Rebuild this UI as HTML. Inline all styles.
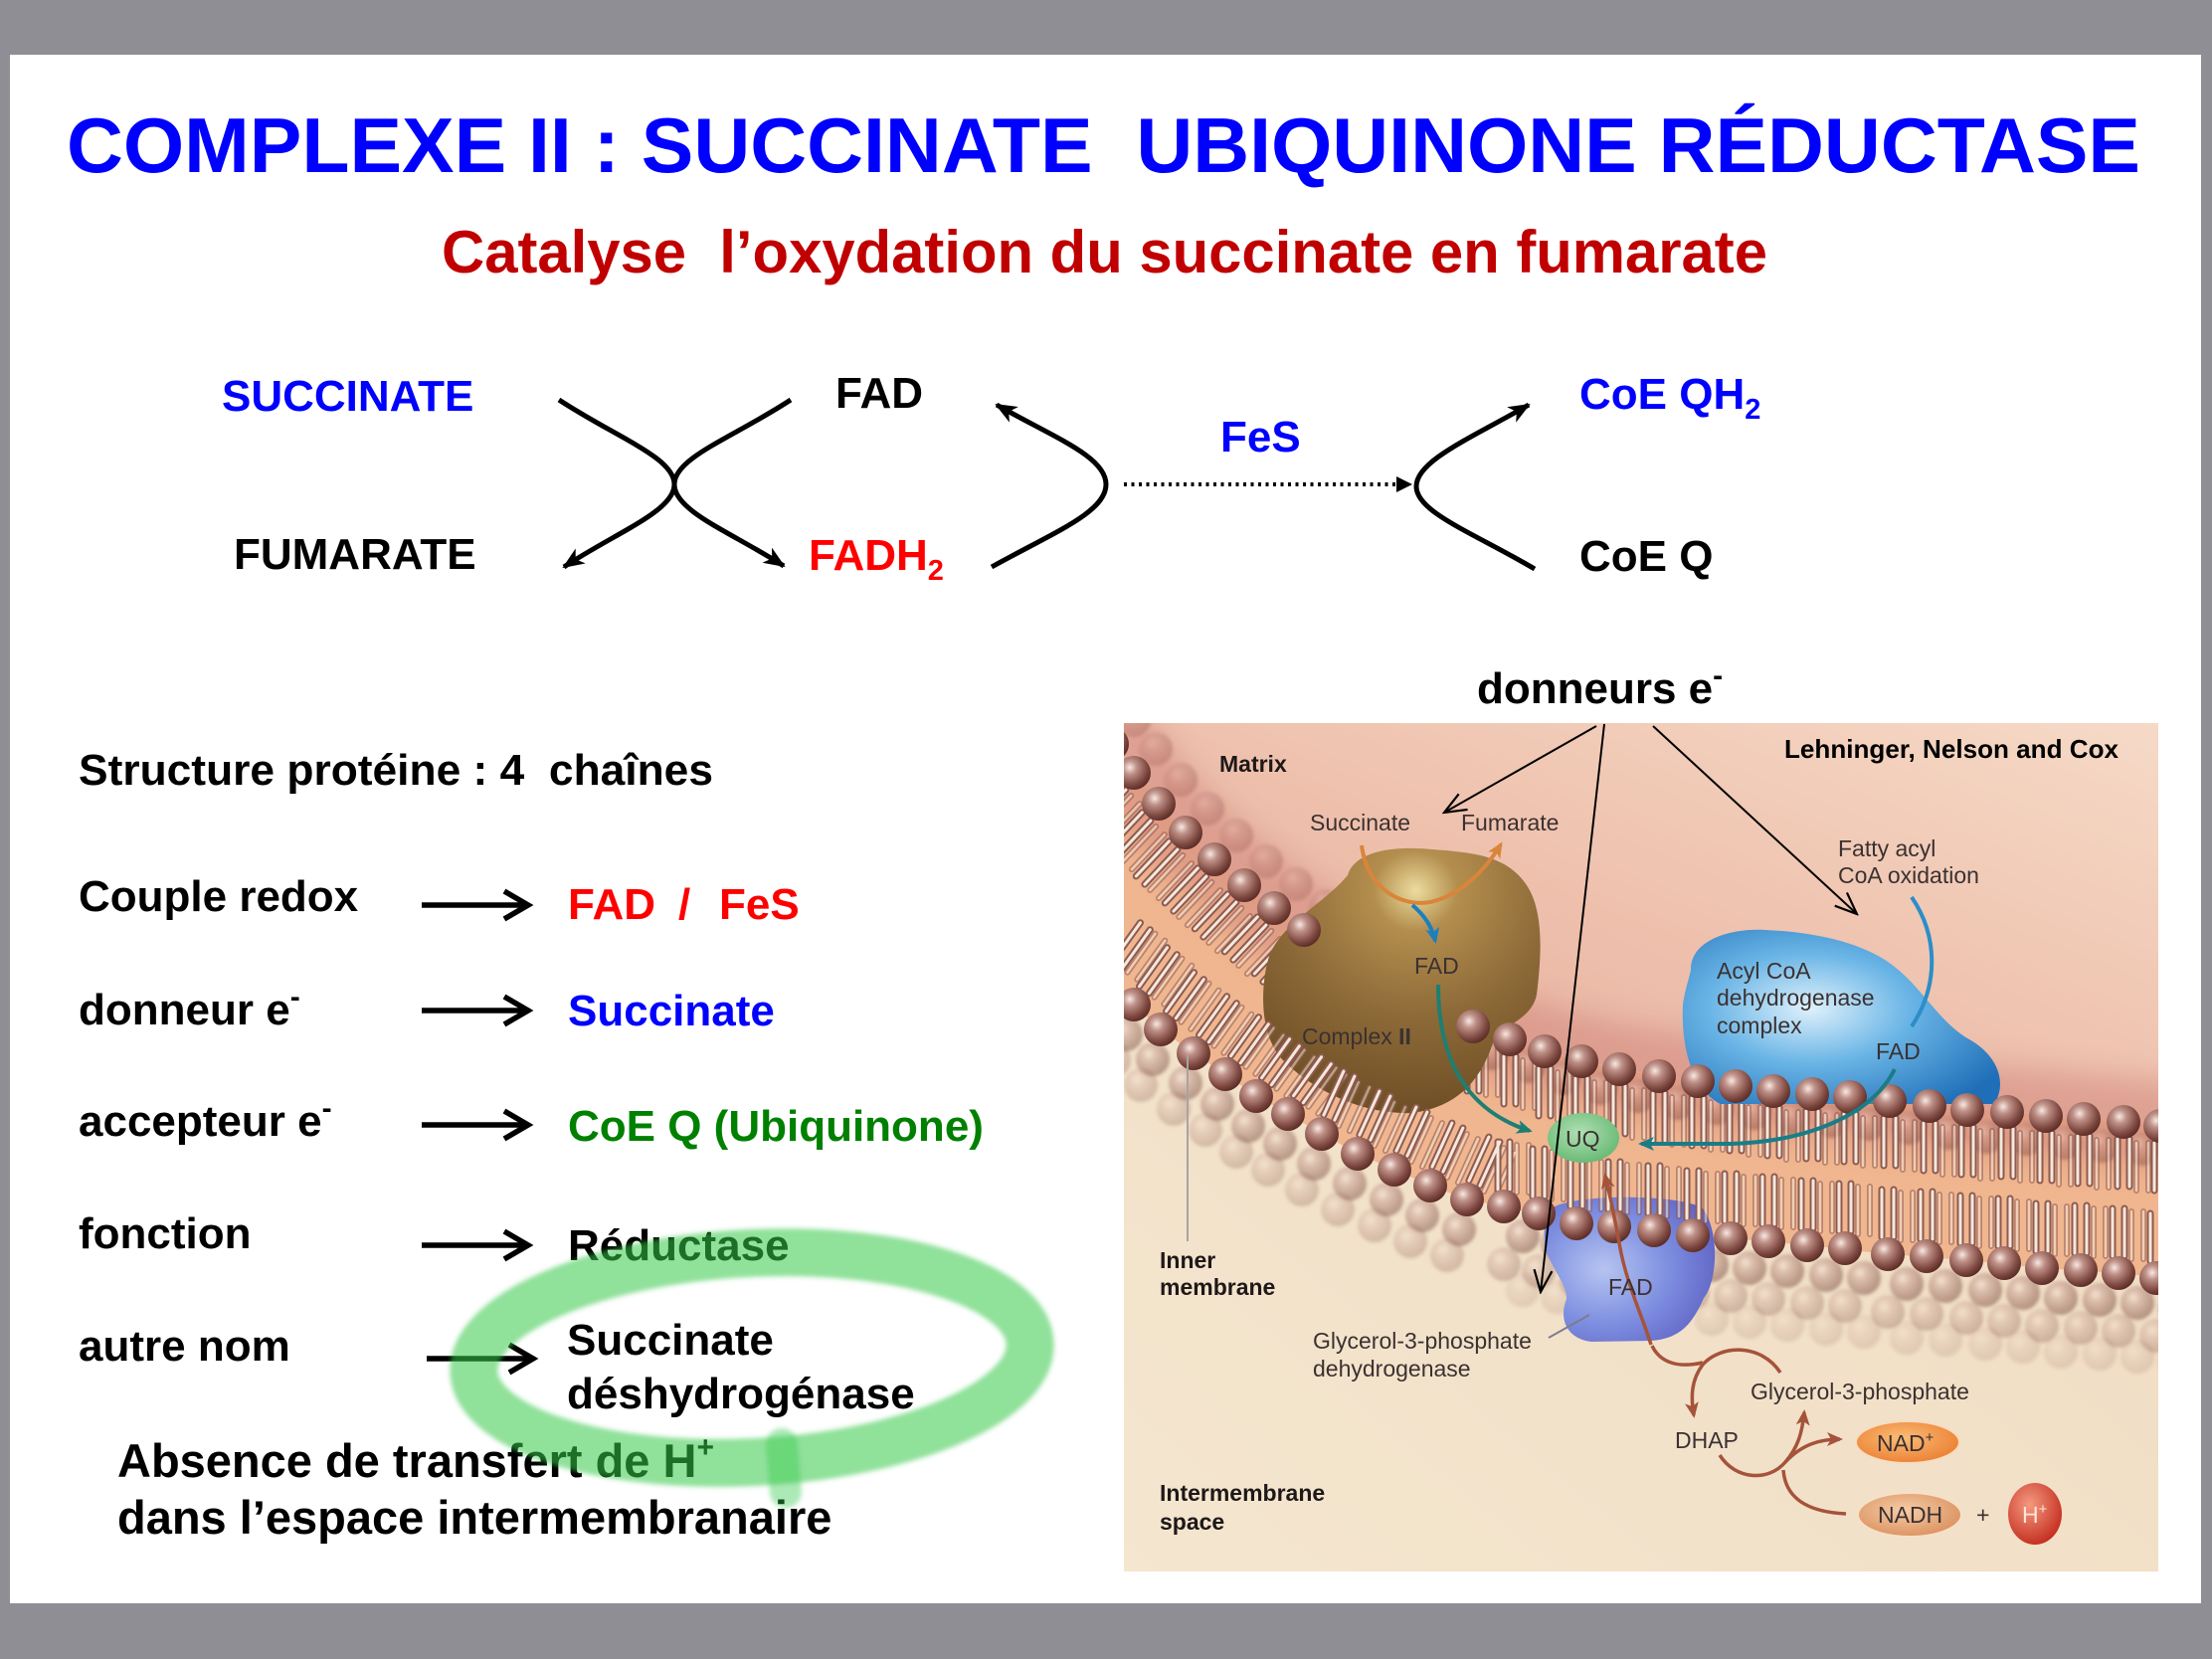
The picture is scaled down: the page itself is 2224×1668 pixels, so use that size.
<!DOCTYPE html>
<html><head><meta charset="utf-8"><style>
html,body{margin:0;padding:0;width:2224px;height:1668px;overflow:hidden;background:#8f8e94;}
svg{display:block}
text{font-family:"Liberation Sans",Arial,Helvetica,sans-serif;}
</style></head><body>
<svg width="2224" height="1668" viewBox="0 0 2224 1668" xmlns="http://www.w3.org/2000/svg">
<defs>
<radialGradient id="hg" cx="0.38" cy="0.34" r="0.68"><stop offset="0" stop-color="#f7e9e2"/><stop offset="0.3" stop-color="#bf9188"/><stop offset="0.75" stop-color="#7f4a42"/><stop offset="1" stop-color="#5c2d27"/></radialGradient>
<circle id="h" r="17" fill="url(#hg)"/>
<linearGradient id="mg" x1="1" y1="0" x2="0" y2="1"><stop offset="0" stop-color="#f6dcc9"/><stop offset="0.5" stop-color="#eec1ad"/><stop offset="1" stop-color="#e4a898"/></linearGradient>
<linearGradient id="bg2" x1="0" y1="1" x2="1" y2="0"><stop offset="0" stop-color="#f4e6cf"/><stop offset="1" stop-color="#efd9bf"/></linearGradient>
<radialGradient id="c2g" cx="0.55" cy="0.16" r="0.95"><stop offset="0" stop-color="#ecdc9e"/><stop offset="0.16" stop-color="#b38e4e"/><stop offset="0.5" stop-color="#8d6a38"/><stop offset="1" stop-color="#654620"/></radialGradient>
<radialGradient id="acg" cx="0.4" cy="0.45" r="0.7"><stop offset="0" stop-color="#dff1fb"/><stop offset="0.45" stop-color="#6ab5e6"/><stop offset="1" stop-color="#1f6fb8"/></radialGradient>
<radialGradient id="glg" cx="0.35" cy="0.5" r="0.75"><stop offset="0" stop-color="#b6c4f1"/><stop offset="0.5" stop-color="#7e8fe0"/><stop offset="1" stop-color="#5a5cc0"/></radialGradient>
<radialGradient id="uqg" cx="0.45" cy="0.4" r="0.7"><stop offset="0" stop-color="#b0e0b4"/><stop offset="1" stop-color="#5fb46c"/></radialGradient>
<radialGradient id="nadg" cx="0.45" cy="0.4" r="0.7"><stop offset="0" stop-color="#fbbd78"/><stop offset="1" stop-color="#e9782a"/></radialGradient>
<radialGradient id="nadhg" cx="0.45" cy="0.4" r="0.7"><stop offset="0" stop-color="#f5cda8"/><stop offset="1" stop-color="#d88a56"/></radialGradient>
<radialGradient id="hpg" cx="0.4" cy="0.35" r="0.7"><stop offset="0" stop-color="#f59a80"/><stop offset="1" stop-color="#c22a1c"/></radialGradient>
<filter id="b2" x="-20%" y="-20%" width="140%" height="140%"><feGaussianBlur stdDeviation="1.5"/></filter>
<filter id="b14" x="-20%" y="-20%" width="140%" height="140%"><feGaussianBlur stdDeviation="14"/></filter>
<filter id="gb" x="-10%" y="-20%" width="120%" height="140%"><feGaussianBlur stdDeviation="2.5"/></filter>
<clipPath id="ic"><rect x="1130" y="727" width="1040" height="853"/></clipPath>
<marker id="mk" markerUnits="userSpaceOnUse" viewBox="0 0 22 18" refX="20" refY="9" markerWidth="22" markerHeight="18" orient="auto"><path d="M0,0 L22,9 L0,18 L6,9 Z" fill="#000"/></marker>
<marker id="mv" markerUnits="userSpaceOnUse" viewBox="0 0 26 26" refX="24" refY="13" markerWidth="26" markerHeight="26" orient="auto"><path d="M2,4 L24,13 L2,22" fill="none" stroke="#000" stroke-width="2.2"/></marker>
<marker id="mo" markerUnits="userSpaceOnUse" viewBox="0 0 16 14" refX="13" refY="7" markerWidth="16" markerHeight="14" orient="auto"><path d="M0,0 L16,7 L0,14 L4,7Z" fill="#d9853a"/></marker>
<marker id="mt" markerUnits="userSpaceOnUse" viewBox="0 0 16 14" refX="13" refY="7" markerWidth="16" markerHeight="14" orient="auto"><path d="M0,0 L16,7 L0,14 L4,7Z" fill="#1d7f72"/></marker>
<marker id="mb" markerUnits="userSpaceOnUse" viewBox="0 0 16 14" refX="13" refY="7" markerWidth="16" markerHeight="14" orient="auto"><path d="M0,0 L16,7 L0,14 L4,7Z" fill="#1b7fc0"/></marker>
<marker id="mt2" markerUnits="userSpaceOnUse" viewBox="0 0 16 14" refX="13" refY="7" markerWidth="16" markerHeight="14" orient="auto"><path d="M0,0 L16,7 L0,14 L4,7Z" fill="#1a7d86"/></marker>
<marker id="mr" markerUnits="userSpaceOnUse" viewBox="0 0 16 14" refX="13" refY="7" markerWidth="16" markerHeight="14" orient="auto"><path d="M0,0 L16,7 L0,14 L4,7Z" fill="#a5533a"/></marker>

<g id="gul"><use href="#h" x="1118" y="748"/><use href="#h" x="1140" y="777"/><use href="#h" x="1165" y="808"/><use href="#h" x="1192" y="837"/><use href="#h" x="1221" y="864"/><use href="#h" x="1251" y="890"/><use href="#h" x="1281" y="913"/><use href="#h" x="1311" y="935"/></g>
<g id="gur"><use href="#h" x="1481" y="1032"/><use href="#h" x="1518" y="1045"/><use href="#h" x="1553" y="1057"/><use href="#h" x="1590" y="1067"/><use href="#h" x="1628" y="1075"/><use href="#h" x="1668" y="1082"/><use href="#h" x="1707" y="1087"/><use href="#h" x="1745" y="1092"/><use href="#h" x="1783" y="1097"/><use href="#h" x="1822" y="1100"/><use href="#h" x="1860" y="1103"/><use href="#h" x="1900" y="1107"/><use href="#h" x="1940" y="1112"/><use href="#h" x="1978" y="1116"/><use href="#h" x="2018" y="1118"/><use href="#h" x="2057" y="1122"/><use href="#h" x="2095" y="1125"/><use href="#h" x="2135" y="1128"/><use href="#h" x="2172" y="1132"/></g>
<g id="gll"><use href="#h" x="1113" y="985"/><use href="#h" x="1140" y="1010"/><use href="#h" x="1167" y="1035"/><use href="#h" x="1200" y="1059"/><use href="#h" x="1232" y="1080"/><use href="#h" x="1263" y="1102"/><use href="#h" x="1295" y="1120"/><use href="#h" x="1329" y="1140"/><use href="#h" x="1365" y="1160"/><use href="#h" x="1402" y="1176"/><use href="#h" x="1438" y="1192"/><use href="#h" x="1475" y="1206"/></g>
<g id="glr"><use href="#h" x="1512" y="1213"/><use href="#h" x="1547" y="1220"/><use href="#h" x="1585" y="1230"/><use href="#h" x="1623" y="1233"/><use href="#h" x="1663" y="1237"/><use href="#h" x="1702" y="1242"/><use href="#h" x="1740" y="1245"/><use href="#h" x="1778" y="1248"/><use href="#h" x="1817" y="1252"/><use href="#h" x="1855" y="1255"/><use href="#h" x="1898" y="1261"/><use href="#h" x="1937" y="1263"/><use href="#h" x="1977" y="1267"/><use href="#h" x="2015" y="1270"/><use href="#h" x="2053" y="1275"/><use href="#h" x="2092" y="1277"/><use href="#h" x="2130" y="1280"/><use href="#h" x="2168" y="1285"/></g>

<path id="tUL" fill="none" d="M1101.3,756.9l-33,35M1109.9,765.1l-33,35M1123.3,785.9l-33,35M1131.9,794.1l-33,35M1148.3,816.9l-33,35M1156.9,825.1l-33,35M1175.3,845.9l-33,35M1183.9,854.1l-33,35M1204.3,872.9l-33,35M1212.9,881.1l-33,35M1234.3,898.9l-33,35M1242.9,907.1l-33,35M1264.3,921.9l-33,35M1272.9,930.1l-33,35M1294.3,943.9l-33,35M1302.9,952.1l-33,35"/>
<path id="tUR" fill="none" d="M1475,1049v48M1487,1049v48M1512,1062v48M1524,1062v48M1547,1074v48M1559,1074v48M1584,1084v48M1596,1084v48M1622,1092v48M1634,1092v48M1662,1099v48M1674,1099v48M1701,1104v48M1713,1104v48M1739,1109v48M1751,1109v48M1777,1114v48M1789,1114v48M1816,1117v48M1828,1117v48M1854,1120v48M1866,1120v48M1894,1124v48M1906,1124v48M1934,1129v48M1946,1129v48M1972,1133v48M1984,1133v48M2012,1135v48M2024,1135v48M2051,1139v48M2063,1139v48M2089,1142v48M2101,1142v48M2129,1145v48M2141,1145v48M2166,1149v48M2178,1149v48"/>
<path id="tLL" fill="none" d="M1128.3,973.7l28,-39M1118.5,966.7l28,-39M1155.3,998.7l28,-39M1145.5,991.7l28,-39M1182.3,1023.7l28,-39M1172.5,1016.7l28,-39M1215.3,1047.7l28,-39M1205.5,1040.7l28,-39M1247.3,1068.7l28,-39M1237.5,1061.7l28,-39M1278.3,1090.7l28,-39M1268.5,1083.7l28,-39M1310.3,1108.7l28,-39M1300.5,1101.7l28,-39
M1341.9,1126.1l20,-44M1330.9,1121.1l20,-44M1377.9,1146.1l20,-44M1366.9,1141.1l20,-44M1414.9,1162.1l20,-44M1403.9,1157.1l20,-44M1450.9,1178.1l20,-44M1439.9,1173.1l20,-44M1487.9,1192.1l20,-44M1476.9,1187.1l20,-44"/>
<path id="tLR" fill="none" d="M1506,1196v-48M1518,1196v-48M1541,1203v-48M1553,1203v-48M1579,1213v-48M1591,1213v-48M1617,1216v-48M1629,1216v-48M1657,1220v-48M1669,1220v-48M1696,1225v-48M1708,1225v-48M1734,1228v-48M1746,1228v-48M1772,1231v-48M1784,1231v-48M1811,1235v-48M1823,1235v-48M1849,1238v-48M1861,1238v-48M1892,1244v-48M1904,1244v-48M1931,1246v-48M1943,1246v-48M1971,1250v-48M1983,1250v-48M2009,1253v-48M2021,1253v-48M2047,1258v-48M2059,1258v-48M2086,1260v-48M2098,1260v-48M2124,1263v-48M2136,1263v-48M2162,1268v-48M2174,1268v-48"/>
<g id="tailsU"><use href="#tUL"/><use href="#tUR"/></g>
<g id="tailsL"><use href="#tLL"/><use href="#tLR"/></g>
<g id="tailsU2"><use href="#tUL" transform="translate(14,14)"/><use href="#tUR" transform="translate(19,4)"/></g>
<g id="tailsL2"><use href="#tLL" transform="translate(15,11)"/><use href="#tLR" transform="translate(19,3)"/></g>
</defs>

<!-- slide -->
<rect x="10" y="55" width="2203" height="1557" fill="#ffffff"/>

<!-- Title -->
<text x="67" y="173" font-size="78" font-weight="bold" fill="#0000ff" style="white-space:pre" textLength="2085" lengthAdjust="spacingAndGlyphs">COMPLEXE II : SUCCINATE  UBIQUINONE RÉDUCTASE</text>
<text x="444" y="274" font-size="60" font-weight="bold" fill="#c00000" style="white-space:pre" textLength="1333" lengthAdjust="spacingAndGlyphs">Catalyse  l’oxydation du succinate en fumarate</text>

<!-- Reaction scheme -->
<g font-size="44" font-weight="bold">
<text x="223" y="413" fill="#0000ff">SUCCINATE</text>
<text x="840" y="410" fill="#000">FAD</text>
<text x="235" y="572" fill="#000">FUMARATE</text>
<text x="813" y="573" fill="#ff0000">FADH<tspan dy="10" font-size="29">2</tspan></text>
<text x="1227" y="454" fill="#0000ff">FeS</text>
<text x="1588" y="411" fill="#0000ff">CoE QH<tspan dy="10" font-size="29">2</tspan></text>
<text x="1588" y="574" fill="#000">CoE Q</text>
</g>
<g fill="none" stroke="#000" stroke-width="5">
<path d="M562,402 C620,440 678,460 678,487 C678,514 620,535 567,570" marker-end="url(#mk)"/>
<path d="M795,402 C737,440 678,460 678,487 C678,514 735,535 788,569" marker-end="url(#mk)"/>
<path d="M997,570 C1060,535 1112,515 1112,487 C1112,459 1060,440 1002,407" marker-end="url(#mk)"/>
<path d="M1543,572 C1480,535 1424,515 1424,489 C1424,463 1480,440 1537,407" marker-end="url(#mk)"/>
</g>
<line x1="1130" y1="487" x2="1414" y2="487" stroke="#000" stroke-width="4" stroke-dasharray="3 4.5"/>
<path d="M1404,479 L1420,487 L1404,495 Z" fill="#000"/>

<!-- Left list -->
<g font-size="44" font-weight="bold" fill="#000">
<text x="79" y="789" style="white-space:pre" textLength="638" lengthAdjust="spacingAndGlyphs">Structure protéine : 4  chaînes</text>
<text x="79" y="916">Couple redox</text>
<text x="571" y="924" fill="#ff0000">FAD</text>
<text x="682" y="924" fill="#ff0000">/</text>
<text x="723" y="924" fill="#ff0000">FeS</text>
<text x="79" y="1030">donneur e<tspan dy="-18" font-size="30">-</tspan></text>
<text x="571" y="1031" fill="#0000ff">Succinate</text>
<text x="79" y="1142">accepteur e<tspan dy="-18" font-size="30">-</tspan></text>
<text x="571" y="1147" fill="#008000">CoE Q (Ubiquinone)</text>
<text x="79" y="1255">fonction</text>
<text x="571" y="1267">Réductase</text>
<text x="79" y="1368">autre nom</text>
<text x="570" y="1362">Succinate</text>
<text x="570" y="1416">déshydrogénase</text>
</g>
<g font-size="47" font-weight="bold" fill="#000">
<text x="118" y="1485">Absence de transfert de H<tspan dy="-20" font-size="30">+</tspan></text>
<text x="118" y="1542">dans l’espace intermembranaire</text>
</g>
<g stroke="#000" stroke-width="5.5" fill="none">
<line x1="424" y1="910" x2="528" y2="910"/><polyline points="507,896 531,910 507,924"/>
<line x1="424" y1="1016" x2="528" y2="1016"/><polyline points="507,1002 531,1016 507,1030"/>
<line x1="424" y1="1131" x2="528" y2="1131"/><polyline points="507,1117 531,1131 507,1145"/>
<line x1="424" y1="1252" x2="528" y2="1252"/><polyline points="507,1238 531,1252 507,1266"/>
<line x1="429" y1="1366" x2="533" y2="1366"/><polyline points="512,1352 536,1366 512,1380"/>
</g>

<!-- donneurs e- -->
<text x="1485" y="707" font-size="44" font-weight="bold" fill="#000">donneurs e<tspan dy="-18" font-size="30">-</tspan></text>

<!-- Illustration -->
<g clip-path="url(#ic)">
<rect x="1130" y="727" width="1040" height="853" fill="url(#bg2)"/>
<path d="M1090,700 L2190,700 L2190,1133 L2095,1125 2018,1118 1940,1112 1860,1103 1783,1097 1707,1087 1628,1075 1553,1057 1481,1032 1400,990 1311,935 1281,913 1251,890 1221,864 1192,837 1165,808 1140,777 1118,748 1100,720 Z" fill="url(#mg)"/>
<!-- faded back rows -->
<g filter="url(#b2)">
<use href="#glr" transform="translate(19,30)" opacity="0.42"/>
<use href="#glr" transform="translate(0,58)" opacity="0.25"/>
<use href="#glr" transform="translate(19,84)" opacity="0.12"/>
<use href="#gll" transform="translate(-8,30)" opacity="0.4"/>
<use href="#gll" transform="translate(-20,56)" opacity="0.22"/>
<use href="#gul" transform="translate(22,-24)" opacity="0.3"/>
</g>
<!-- membrane interior -->
<path d="M1100,720 L1118,748 1140,777 1165,808 1192,837 1221,864 1251,890 1281,913 1311,935 1400,990 1481,1032 1518,1045 1553,1057 1590,1067 1628,1075 1668,1082 1707,1087 1783,1097 1860,1103 1940,1112 2018,1118 2095,1125 2190,1133 L2190,1286 2130,1280 2053,1275 1977,1267 1898,1261 1817,1252 1740,1245 1663,1237 1585,1230 1512,1213 1475,1206 1438,1192 1402,1176 1365,1160 1329,1140 1295,1120 1263,1102 1232,1080 1200,1059 1167,1035 1140,1010 1113,985 1085,960 Z" fill="#f0b68f"/>
<path d="M1100,720 L1118,748 1140,777 1165,808 1192,837 1221,864 1251,890 1281,913 1311,935 1400,990 1481,1032 1553,1057 1628,1075 1707,1087 1783,1097 1860,1103 1940,1112 2018,1118 2095,1125 2190,1133" fill="none" stroke="#cf8279" stroke-width="90" opacity="0.5" filter="url(#b14)"/>
<g filter="url(#b2)"><use href="#gur" transform="translate(19,27)" opacity="0.35"/></g>
<!-- upper tails -->
<g opacity="0.55">
<use href="#tailsU2" stroke="#8e5a50" stroke-width="6" stroke-linecap="round"/>
<use href="#tailsU2" stroke="#f2e2d4" stroke-width="2.5" stroke-linecap="round"/>
</g>
<use href="#tailsU" stroke="#8e5a50" stroke-width="7" stroke-linecap="round"/>
<use href="#tailsU" stroke="#f5e8dc" stroke-width="3" stroke-linecap="round"/>
<!-- acyl CoA blob -->
<path d="M1700,975 C1700,945 1740,933 1775,935 C1820,937 1860,945 1890,962 C1930,985 1945,1025 1980,1045 C2010,1062 2018,1090 2005,1110 L1730,1110 C1700,1095 1690,1050 1692,1010 C1694,995 1698,985 1700,975 Z" fill="url(#acg)"/>
<!-- Complex II -->
<path d="M1355,880 C1362,856 1400,850 1440,854 C1480,857 1512,860 1532,886 C1553,912 1550,960 1545,1000 C1540,1025 1512,1030 1502,1046 C1490,1082 1470,1112 1420,1119 C1370,1121 1320,1096 1290,1066 C1265,1040 1268,990 1275,965 C1285,930 1330,910 1355,880 Z" fill="url(#c2g)"/>
<!-- Glycerol-3-P DH blob -->
<path d="M1560,1215 C1580,1200 1690,1200 1712,1215 C1730,1240 1726,1290 1713,1305 C1702,1330 1690,1346 1660,1348 L1600,1349 C1575,1346 1567,1326 1575,1306 C1576,1290 1555,1270 1553,1250 C1552,1235 1552,1225 1560,1215 Z" fill="url(#glg)"/>
<!-- lower tails -->
<g opacity="0.55">
<use href="#tailsL2" stroke="#8e5a50" stroke-width="6" stroke-linecap="round"/>
<use href="#tailsL2" stroke="#f2e2d4" stroke-width="2.5" stroke-linecap="round"/>
</g>
<use href="#tailsL" stroke="#8e5a50" stroke-width="7" stroke-linecap="round"/>
<use href="#tailsL" stroke="#f5e8dc" stroke-width="3" stroke-linecap="round"/>
<!-- heads -->
<use href="#gul"/><use href="#gur"/><use href="#gll"/><use href="#glr"/>
<!-- UQ -->
<ellipse cx="1592" cy="1144" rx="36" ry="25" fill="url(#uqg)"/>
<!-- colored arrows -->
<g fill="none" stroke-width="4">
<path d="M1369,850 C1375,895 1410,912 1438,907 C1470,900 1495,872 1509,849" stroke="#d9853a" marker-end="url(#mo)"/>
<path d="M1420,910 C1432,920 1440,932 1443,946" stroke="#1b7fc0" marker-end="url(#mb)"/>
<path d="M1446,990 C1446,1060 1470,1115 1538,1137" stroke="#1d7f72" marker-end="url(#mt)"/>
<path d="M1922,902 C1948,940 1950,990 1922,1032" stroke="#2b8ec8"/>
<path d="M1905,1075 C1880,1125 1810,1148 1740,1150 L1650,1150" stroke="#1a7d86" marker-end="url(#mt2)"/>
<path d="M1660,1352 C1650,1320 1635,1290 1628,1250 C1622,1215 1618,1200 1614,1182" stroke="#a5533a" stroke-width="3.5" marker-end="url(#mr)"/>
<path d="M1661,1353 C1670,1372 1690,1375 1712,1370" stroke="#a5533a" stroke-width="3.5"/>
<path d="M1790,1380 C1770,1350 1730,1352 1712,1372 C1700,1388 1700,1405 1703,1423" stroke="#a5533a" stroke-width="3.5" marker-end="url(#mr)"/>
<path d="M1729,1463 C1745,1488 1778,1490 1795,1470 C1808,1455 1812,1440 1814,1420" stroke="#a5533a" stroke-width="3.5" marker-end="url(#mr)"/>
<path d="M1795,1470 C1812,1452 1830,1447 1850,1447" stroke="#a5533a" stroke-width="3.5" marker-end="url(#mr)"/>
<path d="M1856,1522 C1815,1520 1795,1505 1793,1478" stroke="#a5533a" stroke-width="3.5"/>
</g>
<line x1="1194" y1="1060" x2="1194" y2="1248" stroke="#a9a3a3" stroke-width="2"/>
<line x1="1557" y1="1345" x2="1598" y2="1322" stroke="#7d7d8d" stroke-width="2"/>
<!-- NAD ellipses -->
<ellipse cx="1918" cy="1450" rx="52" ry="21" fill="url(#nadg)" stroke="#f8dcc0" stroke-width="2"/>
<ellipse cx="1920" cy="1523" rx="52" ry="22" fill="url(#nadhg)" stroke="#f6e0c8" stroke-width="2"/>
<ellipse cx="2046" cy="1522" rx="27" ry="31" fill="url(#hpg)"/>
<!-- labels -->
<g font-size="23" fill="#3b3131">
<text x="1317" y="835">Succinate</text>
<text x="1469" y="835">Fumarate</text>
<text x="1848" y="861">Fatty acyl</text>
<text x="1848" y="888">CoA oxidation</text>
<text x="1422" y="979">FAD</text>
<text x="1309" y="1050">Complex <tspan font-weight="bold">II</tspan></text>
<text x="1726" y="984">Acyl CoA</text>
<text x="1726" y="1011">dehydrogenase</text>
<text x="1726" y="1039">complex</text>
<text x="1886" y="1065">FAD</text>
<text x="1574" y="1153">UQ</text>
<text x="1617" y="1302">FAD</text>
<text x="1320" y="1356">Glycerol-3-phosphate</text>
<text x="1320" y="1384">dehydrogenase</text>
<text x="1760" y="1407">Glycerol-3-phosphate</text>
<text x="1684" y="1456">DHAP</text>
<text x="1887" y="1459">NAD<tspan dy="-9" font-size="15">+</tspan></text>
<text x="1888" y="1531">NADH</text>
<text x="1987" y="1531">+</text>
<text x="2033" y="1531" fill="#fbe6dc">H<tspan dy="-9" font-size="15">+</tspan></text>
</g>
<g font-size="23" font-weight="bold" fill="#1e1818">
<text x="1226" y="776">Matrix</text>
<text x="1166" y="1275">Inner</text>
<text x="1166" y="1302">membrane</text>
<text x="1166" y="1509">Intermembrane</text>
<text x="1166" y="1538">space</text>
</g>
<text x="1794" y="762" font-size="26" font-weight="bold" fill="#000" textLength="336" lengthAdjust="spacingAndGlyphs">Lehninger, Nelson and Cox</text>
</g>

<!-- thin black arrows from "donneurs e-" -->
<g stroke="#000" stroke-width="2" fill="none">
<line x1="1605" y1="730" x2="1452" y2="817" marker-end="url(#mv)"/>
<line x1="1613" y1="728" x2="1549" y2="1299" marker-end="url(#mv)"/>
<line x1="1662" y1="730" x2="1867" y2="919" marker-end="url(#mv)"/>
</g>

<!-- green highlight -->
<g filter="url(#gb)">
<g opacity="0.55"><ellipse cx="756" cy="1365" rx="280" ry="105" transform="rotate(-3 756 1365)" fill="none" stroke="#34c84a" stroke-width="48"/></g>
<path d="M786,1452 L790,1500" stroke="#34c84a" stroke-width="32" stroke-linecap="round" opacity="0.4"/>
</g>
</svg>
</body></html>
